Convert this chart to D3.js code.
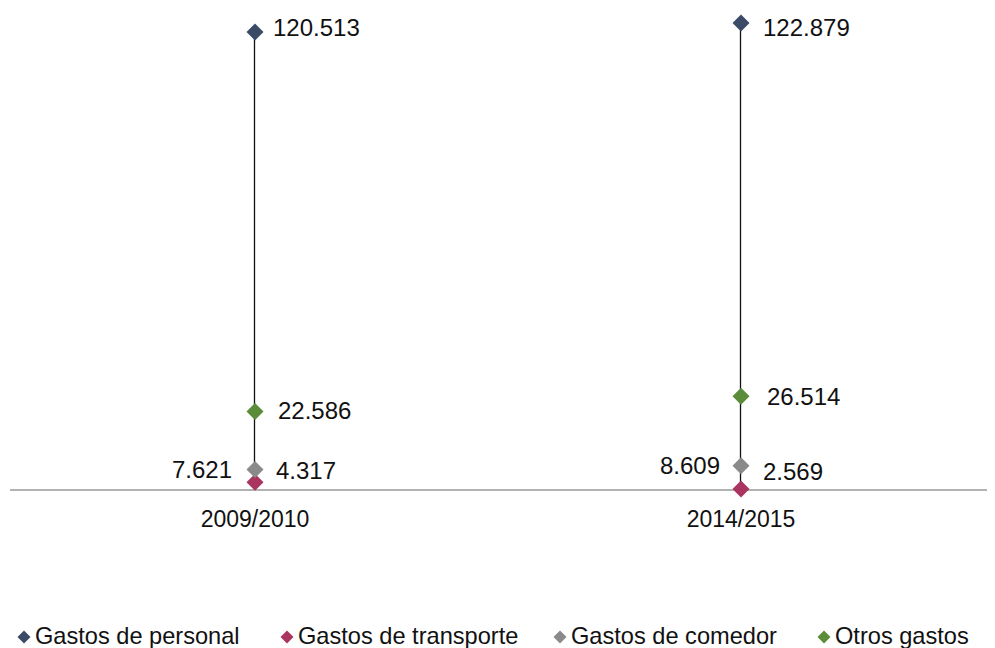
<!DOCTYPE html>
<html><head><meta charset="utf-8">
<script src="https://cdn.jsdelivr.net/npm/d3@7"></script>
<style>body{margin:0;background:#fff;} svg{display:block;font-family:"Liberation Sans",Arial,sans-serif;}</style>
</head><body>
<script>
const categories = ["2009/2010", "2014/2015"];
const seriesNames = ["Gastos de personal", "Gastos de transporte", "Gastos de comedor", "Otros gastos"];
const personal = [120.513, 122.879];
const transporte = [4.317, 2.569];
const comedor = [7.621, 8.609];
const otros = [22.586, 26.514];
const colors = ["#3b4a66", "#a8345f", "#8a8a8a", "#5a8c3a"];

// label placement relative to marker: [dx, baseline dy] per series per category
const labelOffsets = [
  [[18, 4], [22, 13]],
  [[21, -3], [22, -9]],
  [[-23, 9], [-21, 8]],
  [[23, 8], [26, 9]]
];

const W = 995, H = 648;
const svg = d3.select("body").append("svg").attr("width", W).attr("height", H);

const x = d3.scalePoint().domain(categories).range([255, 741]);
const y = d3.scaleLinear().domain([0, 128.8]).range([499, 0]);
const axisY = 490;

const series = [personal, transporte, comedor, otros];
const fmt = v => v.toFixed(3);

svg.append("line").attr("x1", 10).attr("x2", 987).attr("y1", axisY).attr("y2", axisY)
  .attr("stroke", "#999").attr("stroke-width", 1.3);

svg.selectAll("text.cat").data(categories).join("text").attr("class", "cat")
  .attr("x", d => x(d)).attr("y", 527).attr("text-anchor", "middle")
  .attr("font-size", 23).attr("fill", "#111").text(d => d);

categories.forEach((c, i) => {
  const vals = series.map(s => s[i]);
  svg.append("line").attr("x1", x(c) - 0.5).attr("x2", x(c) - 0.5)
    .attr("y1", y(d3.max(vals))).attr("y2", y(d3.min(vals)))
    .attr("stroke", "#111").attr("stroke-width", 1.3);
});

const diamond = (cx, cy, r) => `M${cx},${cy - r}L${cx + r},${cy}L${cx},${cy + r}L${cx - r},${cy}Z`;

series.forEach((s, si) => {
  categories.forEach((c, i) => {
    svg.append("path").attr("d", diamond(x(c), y(s[i]), 8.5)).attr("fill", colors[si]);
  });
});
series.forEach((s, si) => {
  categories.forEach((c, i) => {
    const [dx, dy] = labelOffsets[si][i];
    svg.append("text")
      .attr("x", x(c) + dx)
      .attr("y", y(s[i]) + dy)
      .attr("text-anchor", dx < 0 ? "end" : "start")
      .attr("font-size", 24).attr("fill", "#111").text(fmt(s[i]));
  });
});

const legendX = [24, 287, 560, 824];
seriesNames.forEach((n, i) => {
  svg.append("path").attr("d", diamond(legendX[i], 637, 6.5)).attr("fill", colors[i]);
  svg.append("text").attr("x", legendX[i] + 11).attr("y", 644)
    .attr("font-size", 23.6).attr("fill", "#111").text(n);
});
</script>
</body></html>
